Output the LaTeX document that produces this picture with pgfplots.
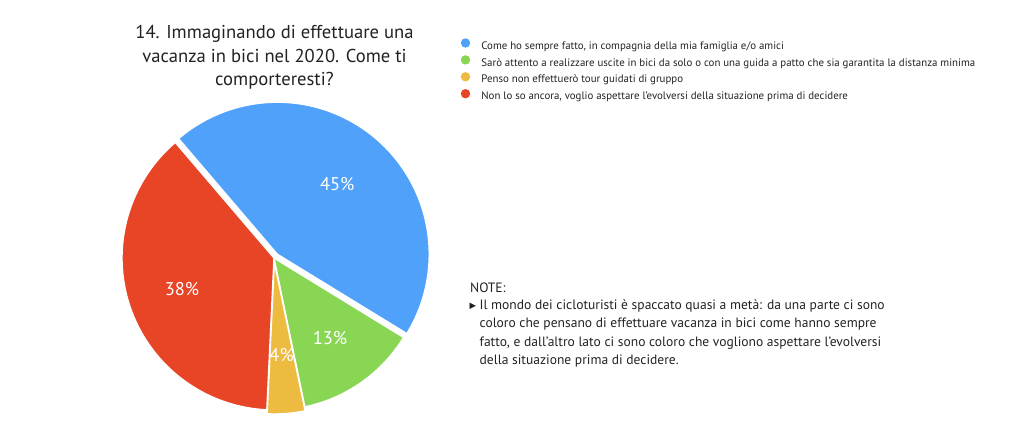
\documentclass[border=0pt]{standalone}
\usepackage{pgfplots}
\pgfplotsset{compat=1.18}
\usepackage{fontspec}
\setmainfont{PT Sans}
\newfontfamily\dejavu{DejaVu Sans}
\definecolor{cblue}{HTML}{4FA1FA}
\definecolor{cgreen}{HTML}{89D654}
\definecolor{corange}{HTML}{EDBB40}
\definecolor{cred}{HTML}{E84426}
\definecolor{ctext}{HTML}{222222}
\def\cx{274}\def\cy{183}\def\R{152}
\newcommand{\pctfont}{\fontsize{18.5}{18.5}\selectfont}
\newcommand{\slice}[5]{%
  \pgfmathsetmacro\aA{#1}%
  \pgfmathsetmacro\aB{#1-3.6*#2}%
  \pgfmathsetmacro\aM{(\aA+\aB)/2}%
  \pgfmathsetmacro\ox{\cx+#4*cos(\aM)}%
  \pgfmathsetmacro\oy{\cy+#4*sin(\aM)}%
  \pgfmathsetmacro\lx{\cx+0.64*\R*cos(\aM)}%
  \pgfmathsetmacro\ly{\cy+0.64*\R*sin(\aM)}%
  \edef\doslice{\noexpand\addplot[fill=#3, draw=white, line width=1.4bp, line join=round, domain=\aB:\aA, samples=120, variable=\noexpand\t]
     ({\ox+\R*cos(\noexpand\t)},{\oy+\R*sin(\noexpand\t)}) -- (axis cs:\ox,\oy) -- cycle;}%
  \doslice
  \addlegendentry{#5}%
  \edef\dolabel{\noexpand\node[text=white, font=\noexpand\pctfont, inner sep=0pt] at (axis cs:\lx,\ly) {#2\noexpand\%};}%
  \dolabel
}
\begin{document}
\begin{tikzpicture}
\begin{axis}[
  width=1024bp, height=441bp, scale only axis,
  xmin=0, xmax=1024, ymin=0, ymax=441,
  hide axis, clip=false,
  legend image code/.code={\fill[#1, draw=none] (0bp,3.4bp) circle (4.7bp);},
  legend style={at={(axis cs:460.8,402.7)}, anchor=north west, draw=none, fill=none,
     font=\fontsize{10.9}{14}\selectfont, row sep=3.05bp, inner sep=0pt, outer sep=0pt,
     nodes={inner sep=0pt, text height=8.5bp, text depth=3bp, text=ctext},
     /tikz/every odd column/.append style={column sep=11.2bp}},
  legend cell align=left,
]
\path (axis cs:0,0) rectangle (axis cs:1024,441);
\slice{130.5}{45}{cblue}{5}{Come ho sempre fatto, in compagnia della mia famiglia e/o amici}
\slice{-31.5}{13}{cgreen}{0}{Sarò attento a realizzare uscite in bici da solo o con una guida a patto che sia garantita la distanza minima}
\slice{-78.3}{4}{corange}{4}{Penso non effettuerò tour guidati di gruppo}
\slice{-92.7}{38}{cred}{0}{Non lo so ancora, voglio aspettare l’evolversi della situazione prima di decidere}

\node[anchor=base, font=\fontsize{18.7}{23}\selectfont, text=ctext] at (axis cs:274.5,402) {14. Immaginando di effettuare una};
\node[anchor=base, font=\fontsize{18.7}{23}\selectfont, text=ctext] at (axis cs:274.5,378) {vacanza in bici nel 2020. Come ti};
\node[anchor=base, font=\fontsize{18.7}{23}\selectfont, text=ctext] at (axis cs:274.5,355) {comporteresti?};

\node[anchor=base west, inner sep=0pt, font=\fontsize{13.6}{18}\selectfont, text=ctext] at (axis cs:470,149) {NOTE:};
\node[anchor=base, inner sep=0pt, font=\dejavu\fontsize{8.5}{9}\selectfont, text=ctext] at (axis cs:473,132.5) {▶};
\node[anchor=base west, inner sep=0pt, font=\fontsize{13.6}{18}\selectfont, text=ctext] at (axis cs:479.5,131.5) {Il mondo dei cicloturisti è spaccato quasi a metà: da una parte ci sono};
\node[anchor=base west, inner sep=0pt, font=\fontsize{13.6}{18}\selectfont, text=ctext] at (axis cs:479.5,113.2) {coloro che pensano di effettuare vacanza in bici come hanno sempre};
\node[anchor=base west, inner sep=0pt, font=\fontsize{13.6}{18}\selectfont, text=ctext] at (axis cs:479.5,94.9) {fatto, e dall’altro lato ci sono coloro che vogliono aspettare l’evolversi};
\node[anchor=base west, inner sep=0pt, font=\fontsize{13.6}{18}\selectfont, text=ctext] at (axis cs:479.5,76.6) {della situazione prima di decidere.};
\end{axis}
\end{tikzpicture}
\end{document}
